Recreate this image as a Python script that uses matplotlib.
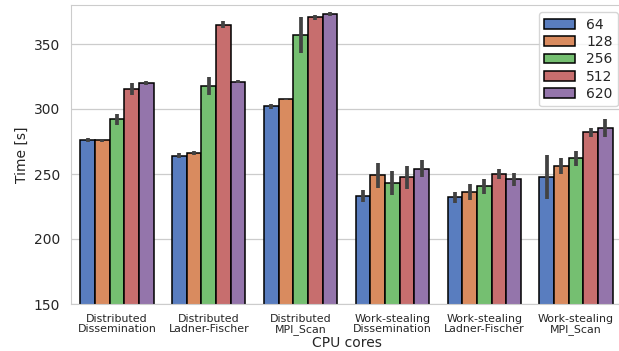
import matplotlib
matplotlib.use('Agg')
import matplotlib.pyplot as plt
import seaborn as sns
import numpy as np

# mean run time per algorithm and core count
algorithms = ['Distributed\nDissemination', 'Distributed\nLadner-Fischer', 'Distributed\nMPI_Scan',
              'Work-stealing\nDissemination', 'Work-stealing\nLadner-Fischer', 'Work-stealing\nMPI_Scan']
cores = ['64', '128', '256', '512', '620']

time_64 = [276, 264, 302, 233, 232, 248]
time_128 = [276, 266, 307.5, 249, 236, 256]
time_256 = [292, 318, 357, 243, 240.5, 262]
time_512 = [315.5, 365, 370.5, 247.5, 250, 282]
time_620 = [320, 321, 373, 254, 246, 285.5]

# half length of the confidence interval bars
err_64 = [1.5, 2, 2, 4.5, 4, 17]
err_128 = [1, 1.5, 0.5, 9.5, 6, 6]
err_256 = [4, 7, 14, 9, 5.5, 6]
err_512 = [4.5, 3, 2, 9, 3.5, 3.5]
err_620 = [1.5, 1, 1.5, 6.5, 5, 7]

times = [time_64, time_128, time_256, time_512, time_620]
errs = [err_64, err_128, err_256, err_512, err_620]

sns.set_style('whitegrid')
colors = sns.color_palette('muted', 5, desat=0.75)

fig = plt.figure(figsize=(6.19, 3.51), dpi=100)
# axes runs slightly past the right edge, like the cropped original
ax = fig.add_axes([71 / 619, 1 - 304 / 351, 551 / 619, 299 / 351])

x = np.arange(len(algorithms))
w = 0.8 / len(cores)
for i, c in enumerate(cores):
    pos = x - 0.4 + w * (i + 0.5)
    ax.bar(pos, times[i], width=w, color=colors[i], edgecolor='black', linewidth=1.1,
           label=c, zorder=2)
    ax.errorbar(pos, times[i], yerr=errs[i], fmt='none', ecolor=(.26, .26, .26),
                elinewidth=2.7, capsize=0, zorder=3)

ax.set_xlim(-0.5, len(algorithms) - 0.5)
ax.set_ylim(150, 380)
ax.set_yticks([150, 200, 250, 300, 350])
ax.set_xticks(x)
ax.set_xticklabels(algorithms, fontsize=7.9, color='#262626', linespacing=1.0)
ax.tick_params(axis='y', labelsize=10, colors='#262626', length=0, pad=8)
ax.tick_params(axis='x', length=0, pad=7)
ax.grid(axis='x', visible=False)
ax.grid(axis='y', color='#cccccc', linewidth=0.9)
ax.set_axisbelow(True)
for s in ax.spines.values():
    s.set_color('#cccccc')
ax.set_xlabel('CPU cores', fontsize=10, color='#262626', labelpad=1)
ax.set_ylabel('Time [s]', fontsize=10, color='#262626', labelpad=3.5)

ax.legend(loc='upper right', bbox_to_anchor=(618 / 619, 1 - 12 / 351),
          bbox_transform=fig.transFigure, borderaxespad=0, fontsize=10,
          frameon=True, handlelength=2.2, labelspacing=0.24)

fig.savefig('out.png', dpi=100)
